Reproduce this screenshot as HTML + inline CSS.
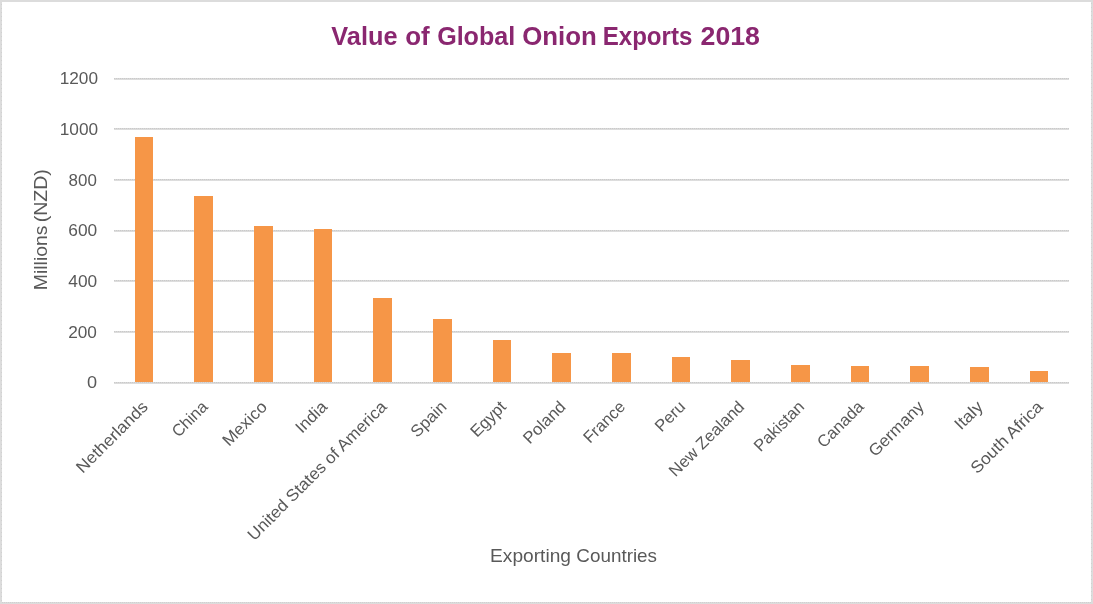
<!DOCTYPE html>
<html lang="en">
<head>
<meta charset="utf-8">
<title>Value of Global Onion Exports 2018</title>
<style>
html,body{margin:0;padding:0;background:#fff;}
body{width:1093px;height:604px;overflow:hidden;}
svg{display:block;}
text{font-family:"Liberation Sans",sans-serif;fill:#595959;}
.t{font-weight:bold;fill:#8a2770;}
</style>
</head>
<body>
<svg width="1093" height="604" viewBox="0 0 1093 604">
<rect x="0" y="0" width="1093" height="604" fill="#ffffff"/>
<rect x="1" y="1" width="1091" height="602" fill="none" stroke="#dcdcdc" stroke-width="2"/>
<g shape-rendering="crispEdges" stroke="#d0d0d0" stroke-width="1" fill="none"><line x1="1.5" y1="4" x2="1.5" y2="602" stroke-dasharray="1 3"/><line x1="1091.5" y1="3" x2="1091.5" y2="602" stroke-dasharray="1 3"/><line x1="2" y1="602.5" x2="1091" y2="602.5" stroke-dasharray="1 1"/></g>
<g shape-rendering="crispEdges">
<rect x="114" y="78" width="955" height="1" fill="#d9d9d9"/><line x1="114" y1="78.5" x2="1069" y2="78.5" stroke="#cacaca" stroke-width="1" stroke-dasharray="1 1"/><rect x="114" y="79" width="955" height="1" fill="#dddddd"/>
<rect x="114" y="128" width="955" height="1" fill="#d9d9d9"/><line x1="114" y1="128.5" x2="1069" y2="128.5" stroke="#cacaca" stroke-width="1" stroke-dasharray="1 1"/><rect x="114" y="129" width="955" height="1" fill="#dddddd"/>
<rect x="114" y="179" width="955" height="1" fill="#d9d9d9"/><line x1="114" y1="179.5" x2="1069" y2="179.5" stroke="#cacaca" stroke-width="1" stroke-dasharray="1 1"/><rect x="114" y="180" width="955" height="1" fill="#dddddd"/>
<rect x="114" y="230" width="955" height="1" fill="#d9d9d9"/><line x1="114" y1="230.5" x2="1069" y2="230.5" stroke="#cacaca" stroke-width="1" stroke-dasharray="1 1"/><rect x="114" y="231" width="955" height="1" fill="#dddddd"/>
<rect x="114" y="280" width="955" height="1" fill="#d9d9d9"/><line x1="114" y1="280.5" x2="1069" y2="280.5" stroke="#cacaca" stroke-width="1" stroke-dasharray="1 1"/><rect x="114" y="281" width="955" height="1" fill="#dddddd"/>
<rect x="114" y="331" width="955" height="1" fill="#d9d9d9"/><line x1="114" y1="331.5" x2="1069" y2="331.5" stroke="#cacaca" stroke-width="1" stroke-dasharray="1 1"/><rect x="114" y="332" width="955" height="1" fill="#dddddd"/>
<rect x="114" y="382" width="955" height="1" fill="#d9d9d9"/><line x1="114" y1="382.5" x2="1069" y2="382.5" stroke="#cacaca" stroke-width="1" stroke-dasharray="1 1"/><rect x="114" y="383" width="955" height="1" fill="#dddddd"/>
</g>
<g fill="#f69647" shape-rendering="crispEdges">
<rect x="135" y="137" width="18" height="245"/>
<rect x="194" y="196" width="19" height="186"/>
<rect x="254" y="226" width="19" height="156"/>
<rect x="314" y="229" width="18" height="153"/>
<rect x="373" y="298" width="19" height="84"/>
<rect x="433" y="319" width="19" height="63"/>
<rect x="493" y="340" width="18" height="42"/>
<rect x="552" y="353" width="19" height="29"/>
<rect x="612" y="353" width="19" height="29"/>
<rect x="672" y="357" width="18" height="25"/>
<rect x="731" y="360" width="19" height="22"/>
<rect x="791" y="365" width="19" height="17"/>
<rect x="851" y="366" width="18" height="16"/>
<rect x="910" y="366" width="19" height="16"/>
<rect x="970" y="367" width="19" height="15"/>
<rect x="1030" y="371" width="18" height="11"/>
</g>
<text class="t" y="45" font-size="25"><tspan x="331.35" textLength="66.15" lengthAdjust="spacingAndGlyphs">Value</tspan> <tspan x="405.25" textLength="24.47" lengthAdjust="spacingAndGlyphs">of</tspan> <tspan x="437.15" textLength="78.07" lengthAdjust="spacingAndGlyphs">Global</tspan> <tspan x="522.25" textLength="74.6" lengthAdjust="spacingAndGlyphs">Onion</tspan> <tspan x="602.7" textLength="89.66" lengthAdjust="spacingAndGlyphs">Exports</tspan> <tspan x="700.55" textLength="59.44" lengthAdjust="spacingAndGlyphs">2018</tspan></text>
<text class="n" x="59.71" y="84.2" font-size="16.8" textLength="38.34" lengthAdjust="spacingAndGlyphs">1200</text>
<text class="n" x="59.71" y="134.867" font-size="16.8" textLength="38.39" lengthAdjust="spacingAndGlyphs">1000</text>
<text class="n" x="68.6" y="185.533" font-size="16.8" textLength="28.26" lengthAdjust="spacingAndGlyphs">800</text>
<text class="n" x="68.25" y="236.2" font-size="16.8" textLength="28.95" lengthAdjust="spacingAndGlyphs">600</text>
<text class="n" x="68.3" y="286.867" font-size="16.8" textLength="28.89" lengthAdjust="spacingAndGlyphs">400</text>
<text class="n" x="68.2" y="337.533" font-size="16.8" textLength="28.74" lengthAdjust="spacingAndGlyphs">200</text>
<text class="n" x="86.91" y="388.2" font-size="16.8" textLength="10.1" lengthAdjust="spacingAndGlyphs">0</text>
<text class="yt" transform="translate(46.9 288.8) rotate(-90)" font-size="17.8"><tspan x="-1.4" textLength="64.67" lengthAdjust="spacingAndGlyphs">Millions</tspan> <tspan x="66.45" textLength="53.19" lengthAdjust="spacingAndGlyphs">(NZD)</tspan></text>
<text class="xt" y="562" font-size="17.8"><tspan x="490.1" textLength="80.87" lengthAdjust="spacingAndGlyphs">Exporting</tspan> <tspan x="576.35" textLength="80.67" lengthAdjust="spacingAndGlyphs">Countries</tspan></text>
<text transform="translate(148.86 407.8) rotate(-45)" font-size="16.6" text-anchor="end" textLength="93.48" lengthAdjust="spacingAndGlyphs">Netherlands</text>
<text transform="translate(208.69 407.8) rotate(-45)" font-size="16.6" text-anchor="end" textLength="42.86" lengthAdjust="spacingAndGlyphs">China</text>
<text transform="translate(268.16 407.8) rotate(-45)" font-size="16.6" text-anchor="end" textLength="55.56" lengthAdjust="spacingAndGlyphs">Mexico</text>
<text transform="translate(328.27 407.8) rotate(-45)" font-size="16.6" text-anchor="end" textLength="37.18" lengthAdjust="spacingAndGlyphs">India</text>
<text transform="translate(387.75 407.8) rotate(-45)" font-size="16.6" text-anchor="end" textLength="188.93" lengthAdjust="spacingAndGlyphs">United States of America</text>
<text transform="translate(447.58 407.8) rotate(-45)" font-size="16.6" text-anchor="end" textLength="42.95" lengthAdjust="spacingAndGlyphs">Spain</text>
<text transform="translate(507.12 407.8) rotate(-45)" font-size="16.6" text-anchor="end" textLength="42.74" lengthAdjust="spacingAndGlyphs">Egypt</text>
<text transform="translate(566.60 407.8) rotate(-45)" font-size="16.6" text-anchor="end" textLength="52.27" lengthAdjust="spacingAndGlyphs">Poland</text>
<text transform="translate(626.22 407.8) rotate(-45)" font-size="16.6" text-anchor="end" textLength="51.36" lengthAdjust="spacingAndGlyphs">France</text>
<text transform="translate(686.33 407.8) rotate(-45)" font-size="16.6" text-anchor="end" textLength="35.26" lengthAdjust="spacingAndGlyphs">Peru</text>
<text transform="translate(745.38 407.8) rotate(-45)" font-size="16.6" text-anchor="end" textLength="98.68" lengthAdjust="spacingAndGlyphs">New Zealand</text>
<text transform="translate(805.21 407.8) rotate(-45)" font-size="16.6" text-anchor="end" textLength="63.36" lengthAdjust="spacingAndGlyphs">Pakistan</text>
<text transform="translate(864.76 407.8) rotate(-45)" font-size="16.6" text-anchor="end" textLength="57.94" lengthAdjust="spacingAndGlyphs">Canada</text>
<text transform="translate(924.94 407.8) rotate(-45)" font-size="16.6" text-anchor="end" textLength="70.45" lengthAdjust="spacingAndGlyphs">Germany</text>
<text transform="translate(984.13 407.8) rotate(-45)" font-size="16.6" text-anchor="end" textLength="32.64" lengthAdjust="spacingAndGlyphs">Italy</text>
<text transform="translate(1043.96 407.8) rotate(-45)" font-size="16.6" text-anchor="end" textLength="94.48" lengthAdjust="spacingAndGlyphs">South Africa</text>
</svg>
</body>
</html>
